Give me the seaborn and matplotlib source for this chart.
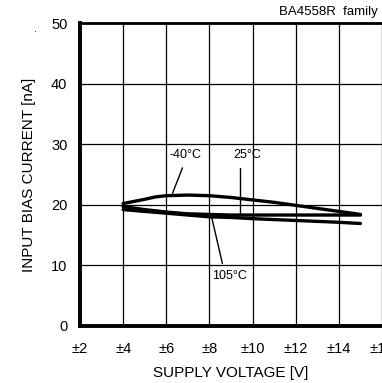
import numpy as np
import pandas as pd
import matplotlib
matplotlib.use("Agg")
import matplotlib.pyplot as plt
import seaborn as sns

# ---- data ----
volt_m40 = [4, 5, 5.5, 6, 7, 8, 9, 10, 11, 12, 13, 14, 15]
ib_m40 = [20.2, 20.9, 21.3, 21.5, 21.6, 21.5, 21.2, 20.8, 20.4, 19.9, 19.4, 18.9, 18.4]
volt_25 = [4, 5, 6, 7, 8, 9, 10, 12, 14, 15]
ib_25 = [19.7, 19.2, 18.8, 18.5, 18.4, 18.3, 18.3, 18.3, 18.3, 18.3]
volt_105 = [4, 5, 6, 7, 8, 9, 10, 12, 14, 15]
ib_105 = [19.2, 18.9, 18.6, 18.3, 18.0, 17.9, 17.7, 17.4, 17.1, 16.9]
series_names = ["-40°C", "25°C", "105°C"]
xticks = [2, 4, 6, 8, 10, 12, 14, 16]
xtick_labels = ["±2", "±4", "±6", "±8", "±10", "±12", "±14", "±16"]
yticks = [0, 10, 20, 30, 40, 50]
title_text = "BA4558R  family"
xlabel_text = "SUPPLY VOLTAGE [V]"
ylabel_text = "INPUT BIAS CURRENT [nA]"

df = pd.concat([
    pd.DataFrame({"V": volt_m40, "I": ib_m40, "T": series_names[0]}),
    pd.DataFrame({"V": volt_25, "I": ib_25, "T": series_names[1]}),
    pd.DataFrame({"V": volt_105, "I": ib_105, "T": series_names[2]}),
])

sns.set_theme(style="white")
plt.rcParams["font.family"] = ["Liberation Sans", "DejaVu Sans"]

fig = plt.figure(figsize=(3.82, 3.83), dpi=100)
ax = fig.add_axes([0.2094, 0.1496, 0.7906, 0.7895])

sns.lineplot(data=df, x="V", y="I", hue="T", palette=["black"] * 3,
             linewidth=2.4, legend=False, ax=ax, sort=False)

ax.set_xlim(2, 16)
ax.set_ylim(0, 50)
ax.set_xticks(xticks)
ax.set_xticklabels(xtick_labels)
ax.set_yticks(yticks)
ax.grid(True, color="black", linewidth=0.9)
ax.set_axisbelow(True)
ax.tick_params(axis="both", direction="in", length=3, width=2.5, color="black",
               labelsize=10.5, labelcolor="black")
ax.tick_params(axis="y", pad=9)
ax.tick_params(axis="x", pad=12)
for s in ["left", "bottom"]:
    ax.spines[s].set_linewidth(2.8)
    ax.spines[s].set_color("black")
ax.spines["top"].set_linewidth(2.0)
ax.spines["top"].set_color("black")
ax.spines["right"].set_visible(False)

ax.set_xlabel(xlabel_text, fontsize=11, color="black", labelpad=7)
ax.set_ylabel(ylabel_text, fontsize=11, color="black", labelpad=11)

fig.text(0.99, 0.968, title_text, ha="right", va="center", fontsize=9.5, color="black")
fig.text(0.092, 0.925, ".", ha="center", va="center", fontsize=8, color="black")

# annotations
ann = [
    (series_names[0], (6.29, 21.9), (6.75, 26.1), (6.87, 28.2)),
    (series_names[1], (9.43, 18.6), (9.43, 26.1), (9.75, 28.2)),
    (series_names[2], (8.1, 18.0), (8.6, 10.3), (8.95, 8.2)),
]
for name, p0, p1, pt in ann:
    ax.plot([p0[0], p1[0]], [p0[1], p1[1]], color="black", linewidth=1.0)
    ax.text(pt[0], pt[1], name, ha="center", va="center", fontsize=9, color="black")

fig.savefig("out.png", dpi=100)
